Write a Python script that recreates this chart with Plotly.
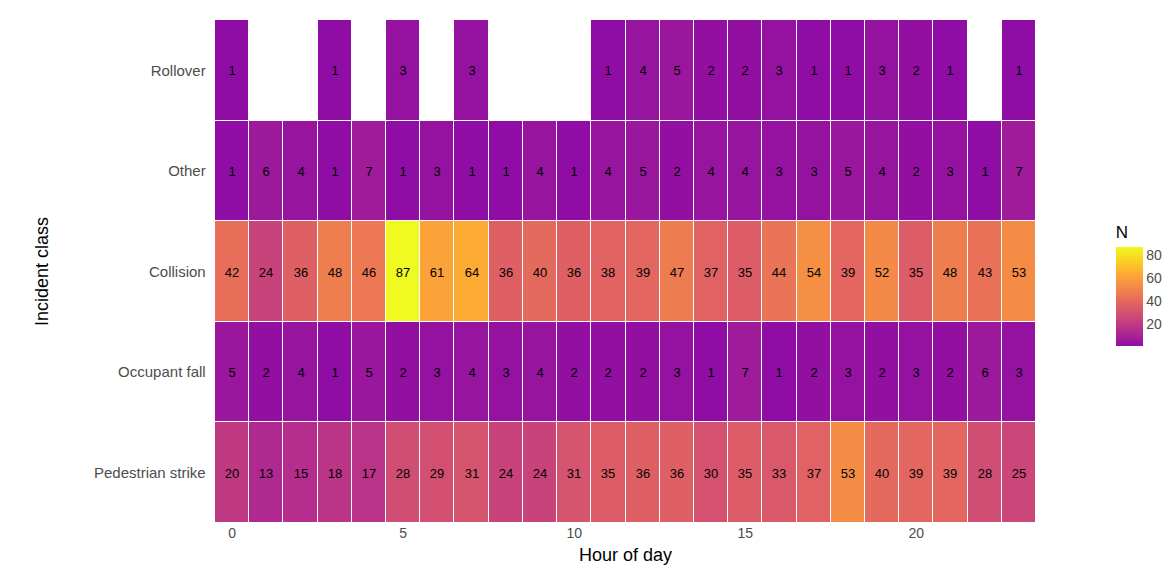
import plotly.graph_objects as go

hours = list(range(24))
classes = ["Pedestrian strike", "Occupant fall", "Collision", "Other", "Rollover"]

rollover = [1, None, None, 1, None, 3, None, 3, None, None, None, 1,
            4, 5, 2, 2, 3, 1, 1, 3, 2, 1, None, 1]
other = [1, 6, 4, 1, 7, 1, 3, 1, 1, 4, 1, 4, 5, 2, 4, 4, 3, 3, 5, 4, 2, 3, 1, 7]
collision = [42, 24, 36, 48, 46, 87, 61, 64, 36, 40, 36, 38, 39, 47, 37, 35,
             44, 54, 39, 52, 35, 48, 43, 53]
occupant_fall = [5, 2, 4, 1, 5, 2, 3, 4, 3, 4, 2, 2, 2, 3, 1, 7, 1, 2, 3, 2, 3, 2, 6, 3]
pedestrian = [20, 13, 15, 18, 17, 28, 29, 31, 24, 24, 31, 35, 36, 36, 30, 35,
              33, 37, 53, 40, 39, 39, 28, 25]

z = [pedestrian, occupant_fall, collision, other, rollover]
text = [["" if v is None else str(v) for v in row] for row in z]

# plasma, starting at ~0.3
plasma = ["#8f0da4", "#b12a90", "#cc4778", "#e16462", "#f2844b",
          "#fca636", "#fcce25", "#f0f921"]
colorscale = [[i / (len(plasma) - 1), c] for i, c in enumerate(plasma)]

fig = go.Figure(go.Heatmap(
    x=hours, y=classes, z=z, text=text, texttemplate="%{text}",
    textfont=dict(size=13, color="black"),
    colorscale=colorscale, zmin=1, zmax=87, xgap=1, ygap=1,
    hoverongaps=False,
    colorbar=dict(
        title=dict(text="N", side="top", font=dict(size=17, color="black")),
        x=1.085, xanchor="left", y=0.475, yanchor="middle",
        len=0.285, thickness=27, outlinewidth=0,
        tickvals=[20, 40, 60, 80], ticks="", tickfont=dict(size=14, color="#4d4d4d"),
    ),
))

fig.update_layout(
    width=1173, height=584,
    margin=dict(l=207, r=138, t=12, b=69),
    plot_bgcolor="white", paper_bgcolor="white",
    font=dict(family="Liberation Sans, Arial, sans-serif"),
    xaxis=dict(title=dict(text="Hour of day", font=dict(size=18, color="black"), standoff=8),
               tickvals=[0, 5, 10, 15, 20], showgrid=False, zeroline=False,
               tickfont=dict(size=14, color="#4d4d4d"), range=[-0.5, 23.5]),
    yaxis=dict(title=dict(text="Incident class", font=dict(size=18, color="black"), standoff=40),
               showgrid=False, zeroline=False, ticksuffix="  ",
               tickfont=dict(size=15, color="#4d4d4d")),
)

fig.write_html("out.html")
